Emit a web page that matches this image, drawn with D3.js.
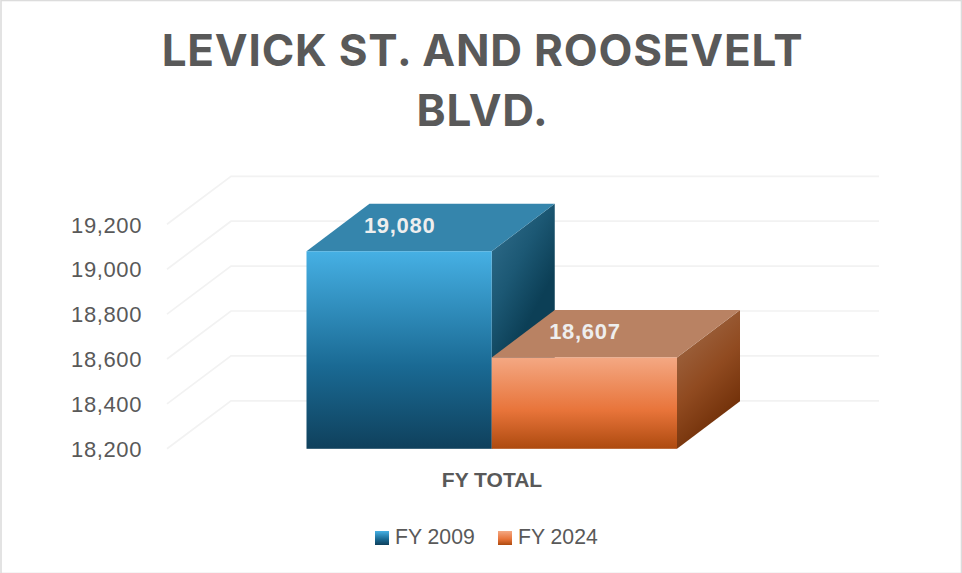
<!DOCTYPE html>
<html><head><meta charset="utf-8">
<script src="https://cdnjs.cloudflare.com/ajax/libs/d3/7.8.5/d3.min.js"></script>
<style>html,body{margin:0;padding:0;background:#fff;overflow:hidden}svg{display:block}</style>
</head><body><div id="chart"></div>
<script>
const titleLines = ["LEVICK ST. AND ROOSEVELT", "BLVD."];
const categories = ["FY 2009", "FY 2024"];
const values = [19080, 18607];
const valueLabels = ["19,080", "18,607"];
const tickValues = [18200, 18400, 18600, 18800, 19000, 19200];
const axisCategory = "FY TOTAL";
const frontGradients = [["#46b0e4", "#1a6a94", "#0f405c"], ["#f4a883", "#e8743a", "#ad4a0f"]];
const topColors = ["#3585ac", "#b98263"];
const sideGradients = [["#33708f", "#1c5874", "#0c3f56"], ["#a3704f", "#904a20", "#6c2c05"]];
const sideVectors = [[0.3, 0.62], [0.45, 1]];

const W = 962, H = 573, depthX = 63, depthY = -47.5;
const svg = d3.select("#chart").append("svg").attr("width", W).attr("height", H);
const defs = svg.append("defs");
const grad = (id, cols, x2, y2) => {
  const g = defs.append("linearGradient").attr("id", id).attr("x1", 0).attr("y1", 0).attr("x2", x2).attr("y2", y2);
  cols.forEach((c, i) => g.append("stop").attr("offset", [0, .58, 1][i]).attr("stop-color", c));
};
categories.forEach((c, i) => { grad("front" + i, frontGradients[i], 0, 1); grad("side" + i, sideGradients[i], sideVectors[i][0], sideVectors[i][1]); });

svg.append("rect").attr("x", 1).attr("y", .5).attr("width", W - 1.5).attr("height", H).attr("fill", "none").attr("stroke", "#dcdcdc").attr("stroke-width", 1.6);

const y = d3.scaleLinear().domain([18200, 19200]).range([448.8, 224.3]);
const x = d3.scaleBand().domain(categories).range([306.5, 677]).padding(0);

const grid = svg.append("g");
const gridColor = "#f2f2f2";
tickValues.forEach(t => {
  grid.append("path")
    .attr("d", d3.line()([[167, y(t)], [167 + 64, y(t) - 48], [879, y(t) - 48]]))
    .attr("fill", "none").attr("stroke", gridColor).attr("stroke-width", 1.7);
});

const axisG = svg.append("g").attr("transform", "translate(142,0)")
  .call(d3.axisLeft(y).tickValues(tickValues).tickSize(0).tickPadding(0).tickFormat(d3.format(",")));
axisG.select(".domain").remove();
axisG.selectAll("text").attr("font-family", "Liberation Sans").attr("font-size", 22).attr("letter-spacing", 0.6).attr("fill", "#595959").attr("dy", "0.35em");

const floorY = y(18200);
categories.forEach((c, i) => {
  const x0 = x(c), x1 = x0 + x.bandwidth(), yt = y(values[i]);
  const g = svg.append("g");
  g.append("path").attr("fill", `url(#side${i})`)
    .attr("d", d3.line()([[x1, yt], [x1 + depthX, yt + depthY], [x1 + depthX, floorY + depthY], [x1, floorY]]) + "Z");
  g.append("path").attr("fill", topColors[i])
    .attr("d", d3.line()([[x0, yt], [x0 + depthX, yt + depthY], [x1 + depthX, yt + depthY], [x1, yt]]) + "Z");
  g.append("rect").attr("x", x0).attr("y", yt).attr("width", x.bandwidth()).attr("height", floorY - yt).attr("fill", `url(#front${i})`);
  g.append("text").attr("x", (x0 + x1) / 2 + .5).attr("y", yt + depthY / 2 - 2.2).attr("dy", "0.36em")
    .attr("text-anchor", "middle").attr("font-family", "Liberation Sans").attr("font-weight", 700).attr("font-size", 22)
    .attr("letter-spacing", 0.7).attr("fill", "#eeeeee").text(valueLabels[i]);
});

svg.append("text").attr("x", 492).attr("y", 487).attr("text-anchor", "middle").attr("font-family", "Liberation Sans")
  .attr("font-weight", 700).attr("font-size", 21).attr("fill", "#595959").text(axisCategory);

const legendX = [375, 498];
categories.forEach((c, i) => {
  svg.append("rect").attr("x", legendX[i]).attr("y", 531).attr("width", 14).attr("height", 14).attr("fill", `url(#front${i})`);
  svg.append("text").attr("x", legendX[i] + 20).attr("y", 544).attr("font-family", "Liberation Sans").attr("font-size", 21.2)
    .attr("fill", "#595959").text(c);
});

svg.append("g").selectAll("text").data(titleLines).join("text")
  .attr("x", 482.5).attr("y", (d, i) => 66 + i * 60).attr("text-anchor", "middle")
  .attr("font-family", "Inter").attr("font-weight", 700).attr("font-size", 44).attr("letter-spacing", 0.8)
  .attr("fill", "#595959").text(d => d);
</script></body></html>
